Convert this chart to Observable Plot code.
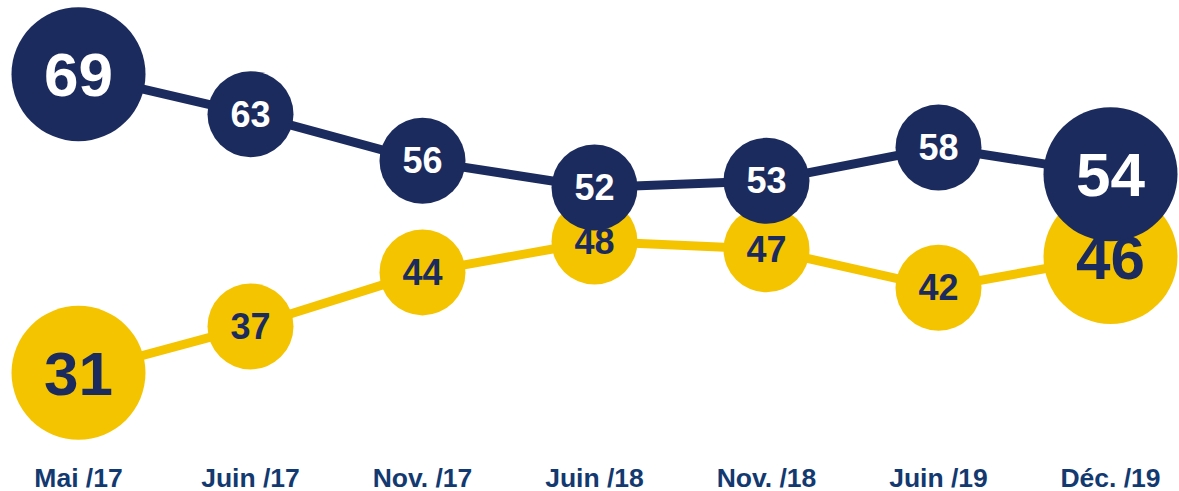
<!DOCTYPE html>
<html>
<head>
<meta charset="utf-8">
<script src="https://cdn.jsdelivr.net/npm/d3@7"></script>
<script src="https://cdn.jsdelivr.net/npm/@observablehq/plot@0.6"></script>
<style>
  html, body { margin: 0; padding: 0; background: #ffffff; }
  #chart svg { display: block; }
</style>
</head>
<body>
<div id="chart"></div>
<script>
// Data
const periods = ["Mai /17", "Juin /17", "Nov. /17", "Juin /18", "Nov. /18", "Juin /19", "Déc. /19"];
const navySeries = [69, 63, 56, 52, 53, 58, 54];
const yellowSeries = [31, 37, 44, 48, 47, 42, 46];

const NAVY = "#1b2b5d";
const YELLOW = "#f5c400";
const LABEL = "#133a70";
const FONT = "'Liberation Sans', Arial, Helvetica, sans-serif";

const rows = (vals, s) => periods.map((p, i) => ({
  period: p, value: vals[i], series: s, end: i === 0 || i === periods.length - 1
}));
const navyRows = rows(navySeries, "navy");
const yellowRows = rows(yellowSeries, "yellow");

function layer(data, fill, textFill) {
  return [
    Plot.line(data, {x: "period", y: "value", stroke: fill, strokeWidth: 9}),
    Plot.dot(data, {filter: d => !d.end, x: "period", y: "value", r: 43, fill, stroke: "none"}),
    Plot.dot(data, {filter: d => d.end, x: "period", y: "value", r: 67, fill, stroke: "none"}),
    Plot.text(data, {filter: d => !d.end, x: "period", y: "value", text: d => String(d.value),
      fill: textFill, fontSize: 36, fontWeight: "bold", dy: 1}),
    Plot.text(data, {filter: d => d.end, x: "period", y: "value", text: d => String(d.value),
      fill: textFill, fontSize: 62, fontWeight: "bold", dy: 2})
  ];
}

const chart = Plot.plot({
  width: 1179,
  height: 491,
  marginTop: 0,
  marginLeft: 0,
  marginRight: 0,
  marginBottom: 24,
  style: {fontFamily: FONT, background: "#ffffff", overflow: "visible"},
  x: {type: "point", domain: periods, range: [77, 1111], padding: 0},
  // piecewise linear vertical scale, as the reference spreads the two series apart
  y: {type: "linear", domain: [30, 48, 52, 70], range: [380, 241, 187, 67], axis: null},
  marks: [
    ...layer(yellowRows, YELLOW, NAVY),
    ...layer(navyRows, NAVY, "#ffffff"),
    Plot.axisX({anchor: "bottom", tickSize: 0, tickPadding: 1, fontSize: 26.5, fontWeight: "bold", fill: LABEL, label: null})
  ]
});
document.getElementById("chart").appendChild(chart);
</script>
</body>
</html>
